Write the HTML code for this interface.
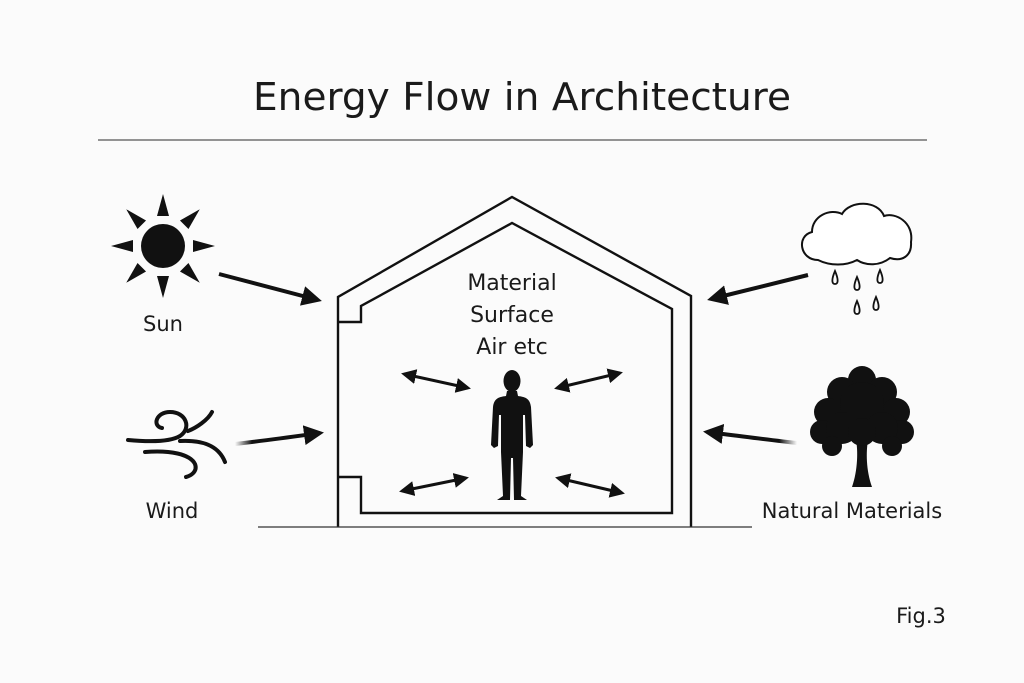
<!DOCTYPE html>
<html><head><meta charset="utf-8"><style>
html,body{margin:0;padding:0;background:#fbfbfb;}
svg{display:block;}
text{font-family:"DejaVu Sans","Liberation Sans",sans-serif;fill:#1a1a1a;}
</style></head><body>
<svg width="1024" height="683" viewBox="0 0 1024 683" xmlns="http://www.w3.org/2000/svg">
<defs>
<marker id="ah" viewBox="0 0 10 10" refX="8" refY="5" markerWidth="5" markerHeight="5" orient="auto-start-reverse">
<path d="M0,0 L10,5 L0,10 Z" fill="#111"/></marker>
<marker id="ai" viewBox="0 0 10 10" refX="8" refY="5" markerWidth="5" markerHeight="5" orient="auto-start-reverse">
<path d="M0,0 L10,5 L0,10 Z" fill="#111"/></marker>
<linearGradient id="gw" x1="0" x2="1"><stop offset="0" stop-color="#111" stop-opacity="0"/><stop offset="0.2" stop-color="#111"/></linearGradient>
<linearGradient id="gt" x1="1" x2="0"><stop offset="0" stop-color="#111" stop-opacity="0"/><stop offset="0.2" stop-color="#111"/></linearGradient>
</defs>
<text x="522" y="110" font-size="38" text-anchor="middle" textLength="538" lengthAdjust="spacingAndGlyphs">Energy Flow in Architecture</text>
<line x1="98" y1="140" x2="927" y2="140" stroke="#555" stroke-width="1.2"/>

<!-- house -->
<g fill="none" stroke="#111" stroke-width="2.4">
<path d="M338,527 L338,297 L512,197 L691,296 L691,527"/>
<path d="M338,322 L361,322 L361,306 L512,223 L672,309 L672,513 L361,513 L361,477 L338,477"/>
</g>
<line x1="258" y1="527" x2="752" y2="527" stroke="#333" stroke-width="1.3"/>

<text font-size="22" text-anchor="middle"><tspan x="512" y="290">Material</tspan><tspan x="512" y="322">Surface</tspan><tspan x="512" y="354">Air etc</tspan></text>

<!-- person -->
<g fill="#111">
<ellipse cx="512" cy="381" rx="8.5" ry="11"/>
<path d="M507,391 L517,391 L518,396 C526,397 530,399 531,407 L533,445 L530,448 L526,446 L525,415 L523,415 L523,452 L521,496 L527,500 L514,500 L513,458 L511,458 L510,500 L497,500 L503,496 L501,452 L501,415 L499,415 L498,446 L494,448 L491,445 L493,407 C494,399 498,397 506,396 Z"/>
</g>

<!-- inner double arrows -->
<g stroke="#111" stroke-width="3" marker-start="url(#ai)" marker-end="url(#ai)">
<line x1="404" y1="374" x2="468" y2="388"/>
<line x1="557" y1="388" x2="620" y2="373"/>
<line x1="402" y1="491" x2="466" y2="478"/>
<line x1="558" y1="478" x2="622" y2="493"/>
</g>

<!-- sun -->
<g fill="#111">
<circle cx="163" cy="246" r="22"/>
<g transform="translate(163,246)">
<path id="ray" d="M-6,-30 L0,-52 L6,-30 Z"/>
<use href="#ray" transform="rotate(45)"/><use href="#ray" transform="rotate(90)"/><use href="#ray" transform="rotate(135)"/>
<use href="#ray" transform="rotate(180)"/><use href="#ray" transform="rotate(225)"/><use href="#ray" transform="rotate(270)"/><use href="#ray" transform="rotate(315)"/>
</g>
</g>
<text x="163" y="331" font-size="21" text-anchor="middle">Sun</text>
<line x1="219" y1="274" x2="318" y2="300" stroke="#111" stroke-width="4" marker-end="url(#ah)"/>

<!-- wind -->
<g fill="none" stroke="#111" stroke-width="4" stroke-linecap="round">
<path d="M128,440 C150,442 170,442 180,436 C192,428 186,412 170,412 C156,412 152,426 162,428"/>
<path d="M188,431 C196,428 208,420 212,412"/>
<path d="M180,441 C200,440 218,444 225,462"/>
<path d="M145,452 C170,450 190,454 195,464 C198,472 190,476 186,477"/>
</g>
<path d="M235,444 C270,440 298,436 320,433" fill="none" stroke="url(#gw)" stroke-width="4" marker-end="url(#ah)"/>
<text x="172" y="518" font-size="21" text-anchor="middle">Wind</text>

<!-- cloud -->
<path d="M818,260 C800,260 796,236 812,232 C812,216 830,208 842,214 C850,200 878,200 884,216 C895,212 914,222 911,242 C912,256 902,262 890,258 C880,266 866,266 857,260 C846,266 830,266 818,260 Z" fill="#fff" stroke="#111" stroke-width="2"/>
<g fill="none" stroke="#111" stroke-width="1.8">
<path d="M835,271 C832,278 831,284 835,284 C839,284 838,278 835,271 Z"/>
<path d="M857,277 C854,284 853,290 857,290 C861,290 860,284 857,277 Z"/>
<path d="M880,270 C877,277 876,283 880,283 C884,283 883,277 880,270 Z"/>
<path d="M857,301 C854,308 853,314 857,314 C861,314 860,308 857,301 Z"/>
<path d="M876,297 C873,304 872,310 876,310 C880,310 879,304 876,297 Z"/>
</g>
<line x1="808" y1="275" x2="711" y2="299" stroke="#111" stroke-width="4" marker-end="url(#ah)"/>

<!-- tree -->
<g fill="#111">
<path d="M852,487 C858,470 858,450 856,440 L868,440 C866,452 866,470 872,487 Z"/>
<circle cx="862" cy="380" r="14"/><circle cx="842" cy="392" r="15"/><circle cx="882" cy="392" r="15"/>
<circle cx="828" cy="412" r="14"/><circle cx="896" cy="412" r="14"/><circle cx="862" cy="404" r="22"/>
<circle cx="822" cy="432" r="12"/><circle cx="902" cy="432" r="12"/><circle cx="842" cy="428" r="16"/><circle cx="882" cy="428" r="16"/>
<circle cx="832" cy="446" r="10"/><circle cx="892" cy="446" r="10"/><circle cx="862" cy="432" r="14"/>
</g>
<path d="M797,443 C770,440 740,436 707,432" fill="none" stroke="url(#gt)" stroke-width="4" marker-end="url(#ah)"/>
<text x="852" y="518" font-size="21" text-anchor="middle">Natural Materials</text>

<text x="921" y="623" font-size="21" text-anchor="middle">Fig.3</text>
</svg>
</body></html>
